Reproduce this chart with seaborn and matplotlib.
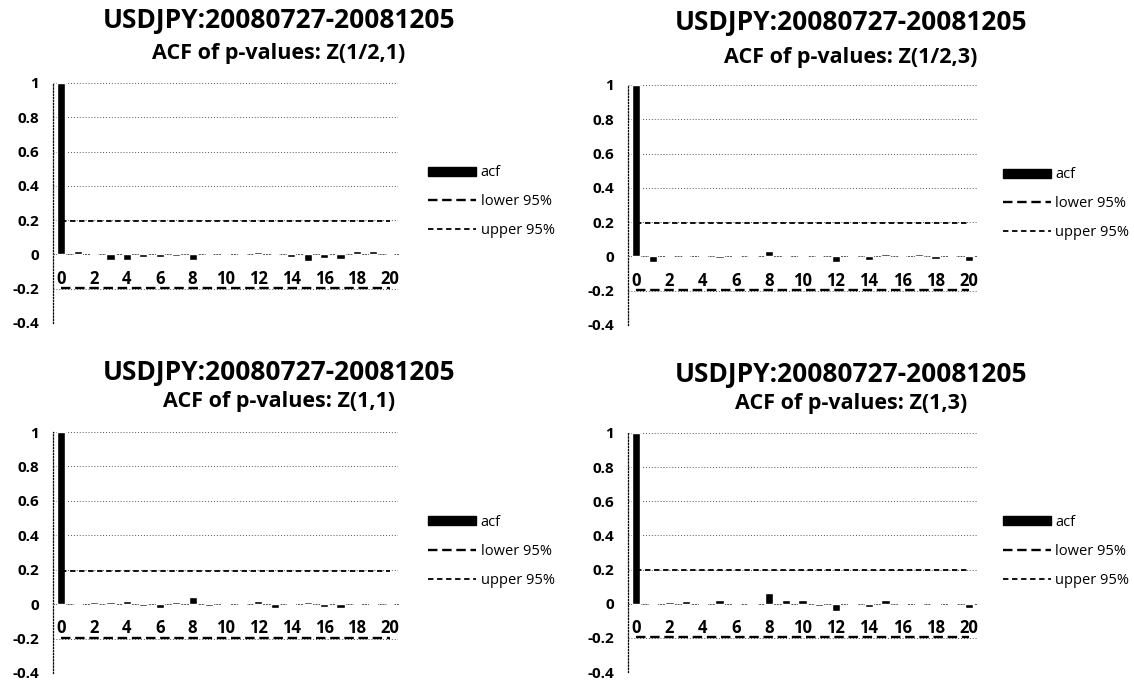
import numpy as np
import pandas as pd
import matplotlib
matplotlib.use("Agg")
import matplotlib.pyplot as plt
from matplotlib.patches import Patch
from matplotlib.lines import Line2D
import seaborn as sns

# ---- data ----
lags = list(range(21))
acf_z_half_1 = [1.0, 0.02, 0.005, -0.03, -0.035, -0.015, -0.015, -0.01, -0.035, 0.005, 0.01,
                0.01, 0.015, 0.005, -0.015, -0.04, -0.02, -0.025, 0.02, 0.02, 0.005]
acf_z_half_3 = [1.0, -0.03, 0.0, 0.0, 0.01, -0.01, 0.01, -0.005, 0.03, 0.0, -0.005,
                0.005, -0.03, -0.005, -0.02, 0.015, 0.0, 0.015, -0.015, 0.0, -0.025]
acf_z_1_1 = [1.0, 0.005, 0.01, 0.01, 0.02, -0.01, -0.025, 0.01, 0.04, -0.01, 0.005,
             0.005, 0.02, -0.025, 0.005, 0.01, -0.015, -0.02, 0.0, -0.005, 0.0]
acf_z_1_3 = [1.0, 0.005, 0.01, 0.015, -0.005, 0.02, 0.005, 0.005, 0.065, 0.02, 0.02,
             -0.015, -0.045, -0.01, -0.02, 0.02, 0.005, 0.005, 0.005, -0.01, -0.025]
band = 0.195
title_main = "USDJPY:20080727-20081205"
subtitles = ["ACF of p-values: Z(1/2,1)", "ACF of p-values: Z(1/2,3)",
             "ACF of p-values: Z(1,1)", "ACF of p-values: Z(1,3)"]
series = [acf_z_half_1, acf_z_half_3, acf_z_1_1, acf_z_1_3]
yticks = [-0.4, -0.2, 0, 0.2, 0.4, 0.6, 0.8, 1]
ytick_labels = ["-0.4", "-0.2", "0", "0.2", "0.4", "0.6", "0.8", "1"]
xticks = list(range(0, 21, 2))

W, H = 1134, 683
# pixel boxes (left, right, top, bottom) of each plot area
boxes = [(53, 398, 83, 323), (628, 977, 85, 325), (53, 398, 432, 673), (628, 977, 433, 672)]
title_pos = [(279, 20, 53), (851, 23, 57), (279, 372, 402), (851, 375, 403)]
legend_x = [1.087, 1.074, 1.087, 1.074]

sns.set_style("white")
plt.rcParams["font.family"] = ["Open Sans", "DejaVu Sans"]
plt.rcParams["text.color"] = "black"
plt.rcParams["xtick.color"] = "black"
plt.rcParams["ytick.color"] = "black"

fig = plt.figure(figsize=(W / 100, H / 100), dpi=100)

for i, vals in enumerate(series):
    l, r, t, b = boxes[i]
    ax = fig.add_axes([l / W, 1 - b / H, (r - l) / W, (b - t) / H])
    df = pd.DataFrame({"lag": lags, "acf": vals,
                       "lower": [-band] * len(lags), "upper": [band] * len(lags)})

    ax.yaxis.grid(True, linestyle=(0, (1, 2)), color="#555555", linewidth=0.7)
    ax.set_axisbelow(True)
    sns.barplot(data=df, x="lag", y="acf", color="black", width=0.5,
                saturation=1, ax=ax, zorder=3)
    sns.lineplot(data=df, x="lag", y="lower", color="black", linewidth=1.7,
                 linestyle=(0, (4, 2)), legend=False, ax=ax, zorder=4)
    sns.lineplot(data=df, x="lag", y="upper", color="black", linewidth=1.3,
                 linestyle=(0, (3, 2)), legend=False, ax=ax, zorder=4)

    # axis line at y=0 (set before styling ticks: set_position resets them)
    ax.spines["bottom"].set_position(("data", 0))
    ax.spines["bottom"].set_linestyle((0, (1, 2)))
    ax.spines["bottom"].set_color("#555555")
    ax.spines["bottom"].set_linewidth(0.7)
    ax.spines["left"].set_linestyle((0, (1, 1.5)))
    ax.spines["left"].set_color("black")
    ax.spines["left"].set_linewidth(0.9)
    ax.spines["top"].set_visible(False)
    ax.spines["right"].set_visible(False)

    ax.set_xlim(-0.5, 20.5)
    ax.set_ylim(-0.4, 1.0)
    ax.set_yticks(yticks)
    ax.set_yticklabels(ytick_labels, fontsize=11, fontweight="bold")
    ax.set_xticks(xticks)
    ax.set_xticklabels([str(x) for x in xticks], fontsize=12, fontweight="bold")
    ax.set_xlabel("")
    ax.set_ylabel("")
    ax.tick_params(axis="x", length=0, pad=11)
    ax.tick_params(axis="y", length=0, pad=10)

    handles = [Patch(facecolor="black", edgecolor="black"),
               Line2D([], [], color="black", linewidth=1.7, linestyle=(0, (4, 2))),
               Line2D([], [], color="black", linewidth=1.3, linestyle=(0, (3, 2)))]
    ax.legend(handles, ["acf", "lower 95%", "upper 95%"], loc="center left",
              bbox_to_anchor=(legend_x[i], 0.505), frameon=False, fontsize=10.5,
              handlelength=3.3, handleheight=0.6, labelspacing=0.95,
              handletextpad=0.3, borderaxespad=0, borderpad=0)

    cx, ty, sy = title_pos[i]
    fig.text(cx / W, 1 - ty / H, title_main, ha="center", va="center",
             fontsize=19, fontweight="bold")
    fig.text(cx / W, 1 - sy / H, subtitles[i], ha="center", va="center",
             fontsize=15.5, fontweight="bold")

fig.savefig("out.png", dpi=100)
